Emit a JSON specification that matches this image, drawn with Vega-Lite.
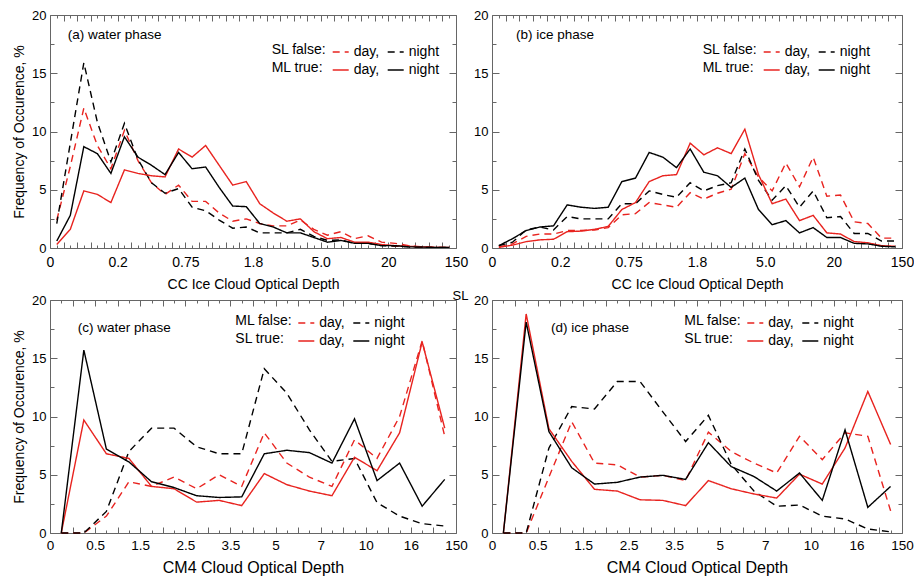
{
  "$schema": "https://vega.github.io/schema/vega-lite/v6.json",
  "autosize": {"type": "pad"},
  "padding": {"left": 11, "top": 8, "right": 0, "bottom": 0},
  "background": "white",
  "datasets": {
    "a": [
      {"x": 0.1, "fd": 2.4, "fn": 2.1, "td": 0.3, "tn": 0.6},
      {"x": 0.3, "fd": 7.0, "fn": 9.0, "td": 1.6, "tn": 2.8},
      {"x": 0.5, "fd": 12.0, "fn": 15.9, "td": 4.9, "tn": 8.7},
      {"x": 0.7, "fd": 8.8, "fn": 10.8, "td": 4.6, "tn": 8.1},
      {"x": 0.9, "fd": 6.8, "fn": 7.4, "td": 3.9, "tn": 6.4},
      {"x": 1.1, "fd": 10.1, "fn": 10.7, "td": 6.7, "tn": 9.55},
      {"x": 1.3, "fd": 7.5, "fn": 7.6, "td": 6.4, "tn": 7.8},
      {"x": 1.5, "fd": 5.6, "fn": 5.6, "td": 6.2, "tn": 7.1},
      {"x": 1.7, "fd": 4.6, "fn": 4.7, "td": 6.1, "tn": 6.3},
      {"x": 1.9, "fd": 5.4, "fn": 5.1, "td": 8.5, "tn": 8.2},
      {"x": 2.1, "fd": 4.0, "fn": 3.5, "td": 7.8, "tn": 6.8},
      {"x": 2.3, "fd": 4.0, "fn": 3.2, "td": 8.8, "tn": 6.95},
      {"x": 2.5, "fd": 3.0, "fn": 2.4, "td": 7.1, "tn": 5.2},
      {"x": 2.7, "fd": 2.3, "fn": 1.7, "td": 5.4, "tn": 3.6},
      {"x": 2.9, "fd": 2.5, "fn": 1.8, "td": 5.7, "tn": 3.55},
      {"x": 3.1, "fd": 2.1, "fn": 1.3, "td": 3.8, "tn": 2.1},
      {"x": 3.3, "fd": 1.9, "fn": 1.3, "td": 3.0, "tn": 1.8},
      {"x": 3.5, "fd": 1.9, "fn": 1.3, "td": 2.3, "tn": 1.3},
      {"x": 3.7, "fd": 2.4, "fn": 1.6, "td": 2.5, "tn": 1.3},
      {"x": 3.9, "fd": 1.6, "fn": 1.0, "td": 1.4, "tn": 0.9},
      {"x": 4.1, "fd": 1.1, "fn": 0.65, "td": 0.8, "tn": 0.5},
      {"x": 4.3, "fd": 1.4, "fn": 0.7, "td": 0.9, "tn": 0.65},
      {"x": 4.5, "fd": 0.8, "fn": 0.4, "td": 0.5, "tn": 0.4},
      {"x": 4.7, "fd": 1.05, "fn": 0.4, "td": 0.5, "tn": 0.4},
      {"x": 4.9, "fd": 0.5, "fn": 0.2, "td": 0.3, "tn": 0.2},
      {"x": 5.1, "fd": 0.4, "fn": 0.15, "td": 0.2, "tn": 0.2},
      {"x": 5.3, "fd": 0.2, "fn": 0.1, "td": 0.15, "tn": 0.1},
      {"x": 5.5, "fd": 0.1, "fn": 0.05, "td": 0.1, "tn": 0.08},
      {"x": 5.7, "fd": 0.05, "fn": 0.05, "td": 0.05, "tn": 0.05},
      {"x": 5.9, "fd": 0.05, "fn": 0.05, "td": 0.05, "tn": 0.05}
    ],
    "b": [
      {"x": 0.1, "fd": 0.1, "fn": 0.2, "td": 0.05, "tn": 0.2},
      {"x": 0.3, "fd": 0.35, "fn": 0.5, "td": 0.25, "tn": 0.8},
      {"x": 0.5, "fd": 1.0, "fn": 1.55, "td": 0.55, "tn": 1.5},
      {"x": 0.7, "fd": 1.2, "fn": 1.8, "td": 0.7, "tn": 1.8},
      {"x": 0.9, "fd": 1.2, "fn": 1.55, "td": 0.75, "tn": 1.9},
      {"x": 1.1, "fd": 1.5, "fn": 2.7, "td": 1.4, "tn": 3.7},
      {"x": 1.3, "fd": 1.5, "fn": 2.5, "td": 1.45, "tn": 3.5},
      {"x": 1.5, "fd": 1.55, "fn": 2.5, "td": 1.6, "tn": 3.4},
      {"x": 1.7, "fd": 1.75, "fn": 2.5, "td": 1.85, "tn": 3.5},
      {"x": 1.9, "fd": 2.85, "fn": 3.8, "td": 3.3, "tn": 5.7},
      {"x": 2.1, "fd": 2.95, "fn": 3.8, "td": 3.9, "tn": 6.0},
      {"x": 2.3, "fd": 3.9, "fn": 4.9, "td": 5.7, "tn": 8.2},
      {"x": 2.5, "fd": 3.7, "fn": 4.6, "td": 6.2, "tn": 7.8},
      {"x": 2.7, "fd": 3.5, "fn": 4.35, "td": 6.3, "tn": 6.9},
      {"x": 2.9, "fd": 4.75, "fn": 5.6, "td": 9.0, "tn": 8.5},
      {"x": 3.1, "fd": 4.2, "fn": 4.9, "td": 8.0, "tn": 6.5},
      {"x": 3.3, "fd": 4.7, "fn": 5.35, "td": 8.6, "tn": 6.2},
      {"x": 3.5, "fd": 5.05, "fn": 5.6, "td": 8.1, "tn": 5.2},
      {"x": 3.7, "fd": 8.1, "fn": 8.5, "td": 10.2, "tn": 6.0},
      {"x": 3.9, "fd": 6.1, "fn": 5.8, "td": 6.3, "tn": 3.3},
      {"x": 4.1, "fd": 4.9, "fn": 4.1, "td": 3.8, "tn": 2.0},
      {"x": 4.3, "fd": 7.3, "fn": 5.35, "td": 4.2, "tn": 2.35},
      {"x": 4.5, "fd": 5.25, "fn": 3.5, "td": 2.35, "tn": 1.3},
      {"x": 4.7, "fd": 7.8, "fn": 4.9, "td": 2.8, "tn": 1.75},
      {"x": 4.9, "fd": 4.45, "fn": 2.6, "td": 1.3, "tn": 0.9},
      {"x": 5.1, "fd": 4.55, "fn": 2.7, "td": 1.2, "tn": 0.9},
      {"x": 5.3, "fd": 2.25, "fn": 1.25, "td": 0.55, "tn": 0.4},
      {"x": 5.5, "fd": 2.1, "fn": 1.25, "td": 0.45, "tn": 0.35},
      {"x": 5.7, "fd": 0.85, "fn": 0.6, "td": 0.2, "tn": 0.15},
      {"x": 5.9, "fd": 0.85, "fn": 0.6, "td": 0.15, "tn": 0.1}
    ],
    "c": [
      {"x": 0.25, "fd": 0, "fn": 0, "td": 0, "tn": 0},
      {"x": 0.75, "fd": 0, "fn": 0, "td": 9.7, "tn": 15.7},
      {"x": 1.25, "fd": 1.45, "fn": 1.85, "td": 6.8, "tn": 7.2},
      {"x": 1.75, "fd": 4.4, "fn": 7.0, "td": 6.4, "tn": 6.1},
      {"x": 2.25, "fd": 4.0, "fn": 9.0, "td": 4.0, "tn": 4.4},
      {"x": 2.75, "fd": 4.8, "fn": 9.0, "td": 3.8, "tn": 3.9},
      {"x": 3.25, "fd": 3.8, "fn": 7.4, "td": 2.65, "tn": 3.2},
      {"x": 3.75, "fd": 5.0, "fn": 6.8, "td": 2.8, "tn": 3.05},
      {"x": 4.25, "fd": 4.0, "fn": 6.8, "td": 2.35, "tn": 3.1},
      {"x": 4.75, "fd": 8.6, "fn": 14.1, "td": 5.1, "tn": 6.8},
      {"x": 5.25, "fd": 6.0, "fn": 12.0, "td": 4.15, "tn": 7.1},
      {"x": 5.75, "fd": 4.8, "fn": 8.85, "td": 3.6, "tn": 6.9},
      {"x": 6.25, "fd": 4.0, "fn": 6.15, "td": 3.2, "tn": 6.0},
      {"x": 6.75, "fd": 8.0, "fn": 6.4, "td": 6.5, "tn": 9.8},
      {"x": 7.25, "fd": 6.4, "fn": 2.6, "td": 5.35, "tn": 4.5},
      {"x": 7.75, "fd": 10.0, "fn": 1.45, "td": 8.6, "tn": 6.0},
      {"x": 8.25, "fd": 16.5, "fn": 0.8, "td": 16.4, "tn": 2.3},
      {"x": 8.75, "fd": 8.3, "fn": 0.6, "td": 9.0, "tn": 4.6}
    ],
    "d": [
      {"x": 0.25, "fd": 0, "fn": 0, "td": 0, "tn": 0},
      {"x": 0.75, "fd": 0, "fn": 0, "td": 18.8, "tn": 18.1},
      {"x": 1.25, "fd": 4.8, "fn": 7.3, "td": 8.95, "tn": 8.7},
      {"x": 1.75, "fd": 9.55, "fn": 10.85, "td": 6.15, "tn": 5.6},
      {"x": 2.25, "fd": 6.0, "fn": 10.65, "td": 3.75, "tn": 4.2},
      {"x": 2.75, "fd": 5.85, "fn": 13.0, "td": 3.6, "tn": 4.35},
      {"x": 3.25, "fd": 4.8, "fn": 13.0, "td": 2.85, "tn": 4.8},
      {"x": 3.75, "fd": 4.95, "fn": 10.4, "td": 2.8, "tn": 4.95},
      {"x": 4.25, "fd": 4.5, "fn": 7.85, "td": 2.35, "tn": 4.6},
      {"x": 4.75, "fd": 8.65, "fn": 10.1, "td": 4.5, "tn": 7.75},
      {"x": 5.25, "fd": 7.0, "fn": 5.9, "td": 3.8, "tn": 5.7},
      {"x": 5.75, "fd": 6.0, "fn": 3.6, "td": 3.35, "tn": 4.85},
      {"x": 6.25, "fd": 5.15, "fn": 2.3, "td": 3.0, "tn": 3.6},
      {"x": 6.75, "fd": 8.3, "fn": 2.4, "td": 5.05, "tn": 5.15},
      {"x": 7.25, "fd": 6.3, "fn": 1.45, "td": 4.2, "tn": 2.8},
      {"x": 7.75, "fd": 8.6, "fn": 1.2, "td": 7.3, "tn": 8.85},
      {"x": 8.25, "fd": 8.3, "fn": 0.35, "td": 12.15, "tn": 2.2},
      {"x": 8.75, "fd": 1.9, "fn": 0.1, "td": 7.6, "tn": 4.0}
    ]
  },
  "columns": 2,
  "spacing": {"row": 52, "column": 36},
  "bounds": "flush",
  "align": "each",
  "concat": [
    {
      "width": 406, "height": 233,
      "title": {"text": "(a) water phase", "dx": 17.7, "dy": 36},
      "data": {"name": "a"},
      "transform": [{"fold": ["fd", "fn", "td", "tn"], "as": ["s", "v"]}],
      "layer": [
        {
          "mark": {"type": "line", "strokeWidth": 1.4},
          "encoding": {
            "x": {"field": "x", "type": "quantitative", "scale": {"domain": [0, 6], "nice": false, "zero": false},
              "axis": {"orient": "bottom", "values": [0,0.1,0.2,0.3,0.4,0.5,0.6,0.7,0.8,0.9,1,1.1,1.2,1.3,1.4,1.5,1.6,1.7,1.8,1.9,2,2.1,2.2,2.3,2.4,2.5,2.6,2.7,2.8,2.9,3,3.1,3.2,3.3,3.4,3.5,3.6,3.7,3.8,3.9,4,4.1,4.2,4.3,4.4,4.5,4.6,4.7,4.8,4.9,5,5.1,5.2,5.3,5.4,5.5,5.6,5.7,5.8,5.9,6],
                "labelExpr": "abs(datum.value - round(datum.value)) < 0.001 ? ['0','0.2','0.75','1.8','5.0','20','150'][round(datum.value)] : ''",
                "labelOverlap": false, "labelFlush": false, "labelFontSize": 14, "labelPadding": 13.5,
                "tickSize": {"condition": {"test": "abs(datum.value*5 - round(datum.value*5)) < 0.001", "value": -6}, "value": -3},
                "title": "CC Ice Cloud Optical Depth", "titleFontSize": 14, "titlePadding": 5}},
            "y": {"field": "v", "type": "quantitative", "scale": {"domain": [0, 20], "nice": false},
              "axis": {"orient": "left", "values": [0,2.5,5,7.5,10,12.5,15,17.5,20],
                "labelExpr": "datum.value % 5 == 0 ? datum.label : ''", "labelOverlap": false, "labelFontSize": 13, "labelPadding": 11,
                "tickSize": {"condition": {"test": "datum.value % 5 == 0", "value": -7}, "value": -4},
                "title": "Frequency of Occurence, %", "titleFontSize": 14, "titlePadding": 5.5}},
            "color": {"field": "s", "type": "nominal",
              "scale": {"domain": ["fd", "td", "fn", "tn"], "range": ["#e8231f", "#e8231f", "#000000", "#000000"]},
              "legend": {"title": ["SL false:", "ML true:"], "legendX": 221.7, "legendY": 28, "labelExpr": "datum.label == 'fd' || datum.label == 'td' ? 'day,' : 'night'"}},
            "strokeDash": {"field": "s", "type": "nominal",
              "scale": {"domain": ["fd", "td", "fn", "tn"], "range": [[7, 5], [1, 0], [7, 5], [1, 0]]},
              "legend": {"title": ["SL false:", "ML true:"], "legendX": 221.7, "legendY": 28, "labelExpr": "datum.label == 'fd' || datum.label == 'td' ? 'day,' : 'night'"}}
          }
        },
        {
          "mark": {"type": "point", "opacity": 0},
          "encoding": {
            "x": {"field": "x", "type": "quantitative", "scale": {"domain": [0, 6], "nice": false, "zero": false},
              "axis": {"orient": "top", "values": [0,0.1,0.2,0.3,0.4,0.5,0.6,0.7,0.8,0.9,1,1.1,1.2,1.3,1.4,1.5,1.6,1.7,1.8,1.9,2,2.1,2.2,2.3,2.4,2.5,2.6,2.7,2.8,2.9,3,3.1,3.2,3.3,3.4,3.5,3.6,3.7,3.8,3.9,4,4.1,4.2,4.3,4.4,4.5,4.6,4.7,4.8,4.9,5,5.1,5.2,5.3,5.4,5.5,5.6,5.7,5.8,5.9,6],
                "labels": false, "title": null,
                "tickSize": {"condition": {"test": "abs(datum.value*5 - round(datum.value*5)) < 0.001", "value": -6}, "value": -3}}},
            "y": {"field": "v", "type": "quantitative", "scale": {"domain": [0, 20], "nice": false},
              "axis": {"orient": "right", "values": [0,2.5,5,7.5,10,12.5,15,17.5,20], "labels": false, "title": null,
                "tickSize": {"condition": {"test": "datum.value % 5 == 0", "value": -7}, "value": -4}}}
          }
        }
      ],
      "resolve": {"scale": {"x": "independent", "y": "independent"}}
    },
    {
      "width": 410, "height": 233,
      "title": {"text": "(b) ice phase", "dx": 24, "dy": 36},
      "data": {"name": "b"},
      "transform": [{"fold": ["fd", "fn", "td", "tn"], "as": ["s", "v"]}],
      "layer": [
        {
          "mark": {"type": "line", "strokeWidth": 1.4},
          "encoding": {
            "x": {"field": "x", "type": "quantitative", "scale": {"domain": [0, 6], "nice": false, "zero": false},
              "axis": {"orient": "bottom", "values": [0,0.1,0.2,0.3,0.4,0.5,0.6,0.7,0.8,0.9,1,1.1,1.2,1.3,1.4,1.5,1.6,1.7,1.8,1.9,2,2.1,2.2,2.3,2.4,2.5,2.6,2.7,2.8,2.9,3,3.1,3.2,3.3,3.4,3.5,3.6,3.7,3.8,3.9,4,4.1,4.2,4.3,4.4,4.5,4.6,4.7,4.8,4.9,5,5.1,5.2,5.3,5.4,5.5,5.6,5.7,5.8,5.9,6],
                "labelExpr": "abs(datum.value - round(datum.value)) < 0.001 ? ['0','0.2','0.75','1.8','5.0','20','150'][round(datum.value)] : ''",
                "labelOverlap": false, "labelFlush": false, "labelFontSize": 14, "labelPadding": 13.5,
                "tickSize": {"condition": {"test": "abs(datum.value*5 - round(datum.value*5)) < 0.001", "value": -6}, "value": -3},
                "title": "CC Ice Cloud Optical Depth", "titleFontSize": 14, "titlePadding": 5}},
            "y": {"field": "v", "type": "quantitative", "scale": {"domain": [0, 20], "nice": false},
              "axis": {"orient": "left", "values": [0,2.5,5,7.5,10,12.5,15,17.5,20],
                "labelExpr": "datum.value % 5 == 0 ? datum.label : ''", "labelOverlap": false, "labelFontSize": 13, "labelPadding": 11,
                "tickSize": {"condition": {"test": "datum.value % 5 == 0", "value": -7}, "value": -4},
                "title": null}},
            "color": {"field": "s", "type": "nominal",
              "scale": {"domain": ["fd", "td", "fn", "tn"], "range": ["#e8231f", "#e8231f", "#000000", "#000000"]},
              "legend": {"title": ["SL false:", "ML true:"], "legendX": 210.7, "legendY": 28, "labelExpr": "datum.label == 'fd' || datum.label == 'td' ? 'day,' : 'night'"}},
            "strokeDash": {"field": "s", "type": "nominal",
              "scale": {"domain": ["fd", "td", "fn", "tn"], "range": [[7, 5], [1, 0], [7, 5], [1, 0]]},
              "legend": {"title": ["SL false:", "ML true:"], "legendX": 210.7, "legendY": 28, "labelExpr": "datum.label == 'fd' || datum.label == 'td' ? 'day,' : 'night'"}}
          }
        },
        {
          "mark": {"type": "point", "opacity": 0},
          "encoding": {
            "x": {"field": "x", "type": "quantitative", "scale": {"domain": [0, 6], "nice": false, "zero": false},
              "axis": {"orient": "top", "values": [0,0.1,0.2,0.3,0.4,0.5,0.6,0.7,0.8,0.9,1,1.1,1.2,1.3,1.4,1.5,1.6,1.7,1.8,1.9,2,2.1,2.2,2.3,2.4,2.5,2.6,2.7,2.8,2.9,3,3.1,3.2,3.3,3.4,3.5,3.6,3.7,3.8,3.9,4,4.1,4.2,4.3,4.4,4.5,4.6,4.7,4.8,4.9,5,5.1,5.2,5.3,5.4,5.5,5.6,5.7,5.8,5.9,6],
                "labels": false, "title": null,
                "tickSize": {"condition": {"test": "abs(datum.value*5 - round(datum.value*5)) < 0.001", "value": -6}, "value": -3}}},
            "y": {"field": "v", "type": "quantitative", "scale": {"domain": [0, 20], "nice": false},
              "axis": {"orient": "right", "values": [0,2.5,5,7.5,10,12.5,15,17.5,20], "labels": false, "title": null,
                "tickSize": {"condition": {"test": "datum.value % 5 == 0", "value": -7}, "value": -4}}}
          }
        }
      ],
      "resolve": {"scale": {"x": "independent", "y": "independent"}}
    },
    {
      "width": 406, "height": 233,
      "title": {"text": "(c) water phase", "dx": 27.7, "dy": 44},
      "data": {"name": "c"},
      "transform": [{"fold": ["fd", "fn", "td", "tn"], "as": ["s", "v"]}],
      "layer": [
        {
          "mark": {"type": "line", "strokeWidth": 1.4},
          "encoding": {
            "x": {"field": "x", "type": "quantitative", "scale": {"domain": [0, 9], "nice": false, "zero": false},
              "axis": {"orient": "bottom", "values": [0,0.25,0.5,0.75,1,1.25,1.5,1.75,2,2.25,2.5,2.75,3,3.25,3.5,3.75,4,4.25,4.5,4.75,5,5.25,5.5,5.75,6,6.25,6.5,6.75,7,7.25,7.5,7.75,8,8.25,8.5,8.75,9],
                "labelExpr": "abs(datum.value - round(datum.value)) < 0.001 ? ['0','0.5','1.5','2.5','3.5','5','7','10','16','150'][round(datum.value)] : ''",
                "labelOverlap": false, "labelFlush": false, "labelFontSize": 13.5, "labelPadding": 11,
                "tickSize": {"condition": {"test": "abs(datum.value*2 - round(datum.value*2)) < 0.001", "value": -6}, "value": -3},
                "title": "CM4 Cloud Optical Depth", "titleFontSize": 16, "titlePadding": 5}},
            "y": {"field": "v", "type": "quantitative", "scale": {"domain": [0, 20], "nice": false},
              "axis": {"orient": "left", "values": [0,2.5,5,7.5,10,12.5,15,17.5,20],
                "labelExpr": "datum.value % 5 == 0 ? datum.label : ''", "labelOverlap": false, "labelFontSize": 13, "labelPadding": 11,
                "tickSize": {"condition": {"test": "datum.value % 5 == 0", "value": -7}, "value": -4},
                "title": "Frequency of Occurence, %", "titleFontSize": 14, "titlePadding": 5.5}},
            "color": {"field": "s", "type": "nominal",
              "scale": {"domain": ["fd", "td", "fn", "tn"], "range": ["#e8231f", "#e8231f", "#000000", "#000000"]},
              "legend": {"title": ["ML false:", "SL true:"], "legendX": 185.3, "legendY": 14, "labelExpr": "datum.label == 'fd' || datum.label == 'td' ? 'day,' : 'night'"}},
            "strokeDash": {"field": "s", "type": "nominal",
              "scale": {"domain": ["fd", "td", "fn", "tn"], "range": [[7, 5], [1, 0], [7, 5], [1, 0]]},
              "legend": {"title": ["ML false:", "SL true:"], "legendX": 185.3, "legendY": 14, "labelExpr": "datum.label == 'fd' || datum.label == 'td' ? 'day,' : 'night'"}}
          }
        },
        {
          "mark": {"type": "point", "opacity": 0},
          "encoding": {
            "x": {"field": "x", "type": "quantitative", "scale": {"domain": [0, 9], "nice": false, "zero": false},
              "axis": {"orient": "top", "values": [0,0.25,0.5,0.75,1,1.25,1.5,1.75,2,2.25,2.5,2.75,3,3.25,3.5,3.75,4,4.25,4.5,4.75,5,5.25,5.5,5.75,6,6.25,6.5,6.75,7,7.25,7.5,7.75,8,8.25,8.5,8.75,9],
                "labels": false, "title": null,
                "tickSize": {"condition": {"test": "abs(datum.value*2 - round(datum.value*2)) < 0.001", "value": -6}, "value": -3}}},
            "y": {"field": "v", "type": "quantitative", "scale": {"domain": [0, 20], "nice": false},
              "axis": {"orient": "right", "values": [0,2.5,5,7.5,10,12.5,15,17.5,20], "labels": false, "title": null,
                "tickSize": {"condition": {"test": "datum.value % 5 == 0", "value": -7}, "value": -4}}}
          }
        }
      ],
      "resolve": {"scale": {"x": "independent", "y": "independent"}}
    },
    {
      "width": 410, "height": 233,
      "title": {"text": "(d) ice phase", "dx": 59, "dy": 49},
      "data": {"name": "d"},
      "transform": [{"fold": ["fd", "fn", "td", "tn"], "as": ["s", "v"]}],
      "layer": [
        {
          "mark": {"type": "line", "strokeWidth": 1.4},
          "encoding": {
            "x": {"field": "x", "type": "quantitative", "scale": {"domain": [0, 9], "nice": false, "zero": false},
              "axis": {"orient": "bottom", "values": [0,0.25,0.5,0.75,1,1.25,1.5,1.75,2,2.25,2.5,2.75,3,3.25,3.5,3.75,4,4.25,4.5,4.75,5,5.25,5.5,5.75,6,6.25,6.5,6.75,7,7.25,7.5,7.75,8,8.25,8.5,8.75,9],
                "labelExpr": "abs(datum.value - round(datum.value)) < 0.001 ? ['0','0.5','1.5','2.5','3.5','5','7','10','16','150'][round(datum.value)] : ''",
                "labelOverlap": false, "labelFlush": false, "labelFontSize": 13.5, "labelPadding": 11,
                "tickSize": {"condition": {"test": "abs(datum.value*2 - round(datum.value*2)) < 0.001", "value": -6}, "value": -3},
                "title": "CM4 Cloud Optical Depth", "titleFontSize": 16, "titlePadding": 5}},
            "y": {"field": "v", "type": "quantitative", "scale": {"domain": [0, 20], "nice": false},
              "axis": {"orient": "left", "values": [0,2.5,5,7.5,10,12.5,15,17.5,20],
                "labelExpr": "datum.value % 5 == 0 ? datum.label : ''", "labelOverlap": false, "labelFontSize": 13, "labelPadding": 11,
                "tickSize": {"condition": {"test": "datum.value % 5 == 0", "value": -7}, "value": -4},
                "title": "SL", "titleAngle": 0, "titleX": -32, "titleY": -1, "titleAlign": "center", "titleBaseline": "alphabetic", "titleFontSize": 13}},
            "color": {"field": "s", "type": "nominal",
              "scale": {"domain": ["fd", "td", "fn", "tn"], "range": ["#e8231f", "#e8231f", "#000000", "#000000"]},
              "legend": {"title": ["ML false:", "SL true:"], "legendX": 192.3, "legendY": 14, "labelExpr": "datum.label == 'fd' || datum.label == 'td' ? 'day,' : 'night'"}},
            "strokeDash": {"field": "s", "type": "nominal",
              "scale": {"domain": ["fd", "td", "fn", "tn"], "range": [[7, 5], [1, 0], [7, 5], [1, 0]]},
              "legend": {"title": ["ML false:", "SL true:"], "legendX": 192.3, "legendY": 14, "labelExpr": "datum.label == 'fd' || datum.label == 'td' ? 'day,' : 'night'"}}
          }
        },
        {
          "mark": {"type": "point", "opacity": 0},
          "encoding": {
            "x": {"field": "x", "type": "quantitative", "scale": {"domain": [0, 9], "nice": false, "zero": false},
              "axis": {"orient": "top", "values": [0,0.25,0.5,0.75,1,1.25,1.5,1.75,2,2.25,2.5,2.75,3,3.25,3.5,3.75,4,4.25,4.5,4.75,5,5.25,5.5,5.75,6,6.25,6.5,6.75,7,7.25,7.5,7.75,8,8.25,8.5,8.75,9],
                "labels": false, "title": null,
                "tickSize": {"condition": {"test": "abs(datum.value*2 - round(datum.value*2)) < 0.001", "value": -6}, "value": -3}}},
            "y": {"field": "v", "type": "quantitative", "scale": {"domain": [0, 20], "nice": false},
              "axis": {"orient": "right", "values": [0,2.5,5,7.5,10,12.5,15,17.5,20], "labels": false, "title": null,
                "tickSize": {"condition": {"test": "datum.value % 5 == 0", "value": -7}, "value": -4}}}
          }
        }
      ],
      "resolve": {"scale": {"x": "independent", "y": "independent"}}
    }
  ],
  "resolve": {"scale": {"color": "independent", "strokeDash": "independent"}},
  "config": {
    "font": "Liberation Sans",
    "view": {"stroke": "#666", "strokeWidth": 1},
    "axis": {"grid": false, "domain": false, "tickColor": "#666", "tickWidth": 1, "labelColor": "#000", "titleColor": "#000", "titleFontWeight": "normal", "labelFont": "Liberation Sans", "titleFont": "Liberation Sans"},
    "legend": {"orient": "none", "symbolType": "stroke", "symbolSize": 256, "symbolStrokeWidth": 1.5, "labelFontSize": 14, "titleFontSize": 14, "titleFontWeight": "normal", "titleOrient": "left", "titleAlign": "left", "titleAnchor": "start", "titleLineHeight": 18, "titlePadding": 5, "columns": 2, "columnPadding": 5, "rowPadding": 2, "labelOffset": 4, "labelColor": "#000", "titleColor": "#000", "labelLimit": 0, "titleLimit": 0, "titleBaseline": "top"},
    "title": {"fontWeight": "normal", "fontSize": 13.5, "color": "#000", "anchor": "start", "frame": "group", "offset": 0, "baseline": "middle"}
  }
}
